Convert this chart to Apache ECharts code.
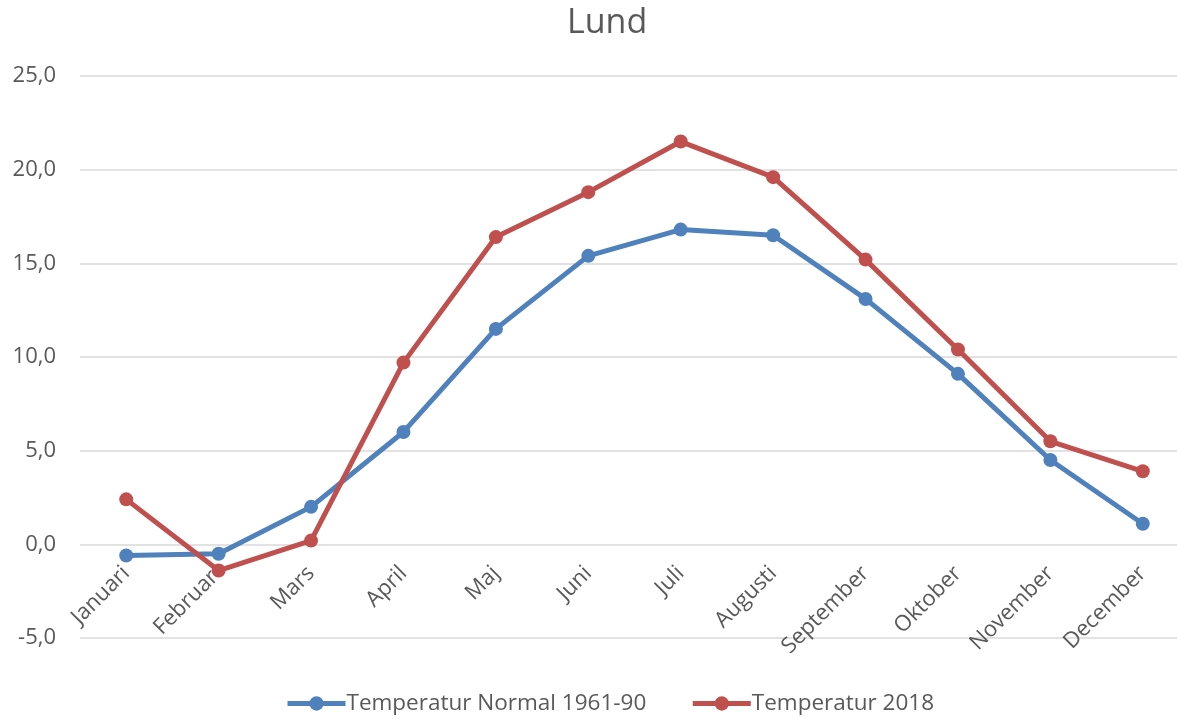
<!DOCTYPE html>
<html><head><meta charset="utf-8">
<script src="https://cdn.jsdelivr.net/npm/echarts@6/dist/echarts.min.js"></script>
<style>html,body{margin:0;padding:0;background:#fff}#c{width:1177px;height:719px}</style>
</head><body><div id="c"></div>
<script>
const categories = ["Januari","Februari","Mars","April","Maj","Juni","Juli","Augusti","September","Oktober","November","December"];
const normal = [-0.6,-0.5,2.0,6.0,11.5,15.4,16.8,16.5,13.1,9.1,4.5,1.1];
const y2018 = [2.4,-1.4,0.2,9.7,16.4,18.8,21.5,19.6,15.2,10.4,5.5,3.9];
const seriesNames = ["Temperatur Normal 1961-90","Temperatur 2018"];
const font = "'Open Sans', 'Noto Sans', sans-serif";
const chart = echarts.init(document.getElementById('c'));
chart.setOption({
  animation:false,
  title:{text:"Lund",left:562,top:1,textStyle:{fontFamily:font,fontSize:34,fontWeight:'normal',color:'#595959'}},
  grid:{left:80,right:-12,top:76,bottom:81,containLabel:false,outerBoundsMode:'none'},
  legend:{bottom:-1,left:280,itemWidth:58,itemHeight:18,itemGap:44,
    lineStyle:{width:5},
    textStyle:{fontFamily:font,fontSize:22.5,color:'#595959',padding:[0,0,0,-4]},
    data:seriesNames},
  xAxis:{type:'category',data:categories,boundaryGap:true,
    axisLine:{show:false},axisTick:{show:false},
    axisLabel:{rotate:45,fontFamily:font,fontSize:22,color:'#595959',margin:-68,padding:[12,0,0,0]}},
  yAxis:{type:'value',min:-5,max:25,interval:5,
    axisLine:{show:false},axisTick:{show:false},
    splitLine:{lineStyle:{color:'#d9d9d9',width:1.5}},
    axisLabel:{fontFamily:font,fontSize:22,color:'#595959',margin:24,
      formatter:v=>v.toFixed(1).replace('.',',')}},
  series:[
    {name:seriesNames[0],type:'line',data:normal,color:'#4F81BD',symbol:'circle',symbolSize:14,
      lineStyle:{width:5},itemStyle:{color:'#4F81BD'}},
    {name:seriesNames[1],type:'line',data:y2018,color:'#C0504D',symbol:'circle',symbolSize:14,
      lineStyle:{width:5},itemStyle:{color:'#C0504D'}}
  ]
});
</script></body></html>
